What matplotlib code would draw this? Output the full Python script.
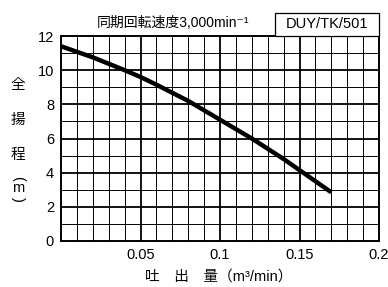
import matplotlib

matplotlib.use("Agg")
import matplotlib.pyplot as plt
from matplotlib.patches import Rectangle
import numpy as np

plt.rcParams["font.family"] = ["Liberation Sans", "Noto Sans CJK JP", "DejaVu Sans"]

# performance curve
flow = [0.0, 0.02, 0.04, 0.05, 0.06, 0.08, 0.10, 0.12, 0.14, 0.15, 0.16, 0.17]
head = [11.4, 10.75, 10.0, 9.6, 9.15, 8.2, 7.1, 6.0, 4.8, 4.15, 3.5, 2.85]

x_ticks = [0.05, 0.1, 0.15, 0.2]
x_tick_labels = ["0.05", "0.1", "0.15", "0.2"]
y_ticks = [0, 2, 4, 6, 8, 10, 12]

title = "同期回転速度3,000min⁻¹"
model = "DUY/TK/501"
x_label = "吐　出　量（m³/min）"
y_chars = ["全", "揚", "程"]

W, H = 388, 287
fig = plt.figure(figsize=(W / 100, H / 100), dpi=100)
ax = fig.add_axes([61 / W, 1 - 241 / H, 318 / W, 205 / H])

ax.set_xlim(0, 0.2)
ax.set_ylim(0, 12)

for xv in np.arange(0.01, 0.2, 0.01):
    major = abs(round(xv / 0.05) * 0.05 - xv) < 1e-9
    ax.axvline(xv, color="black", lw=1.3 if major else 0.7, zorder=1)
for yv in range(1, 12):
    ax.axhline(yv, color="black", lw=1.3 if yv % 2 == 0 else 0.7, zorder=1)

ax.plot(flow, head, color="black", lw=3.2, solid_capstyle="butt", zorder=3)

for sp in ax.spines.values():
    sp.set_linewidth(1.4)

ax.set_xticks(x_ticks)
ax.set_xticklabels(x_tick_labels)
ax.set_yticks(y_ticks)
ax.tick_params(length=0, labelsize=10.5, pad=5)

fig.text(173 / W, 1 - 23 / H, title, ha="center", va="center", fontsize=10)

# model label box sitting on top of the axes
fig.patches.append(Rectangle((275 / W, 1 - 36 / H), 104 / W, 23 / H, transform=fig.transFigure,
                             fc="white", ec="black", lw=0.9))
fig.text(327 / W, 1 - 24.5 / H, model, ha="center", va="center", fontsize=10.5)

fig.text(219 / W, 1 - 277 / H, x_label, ha="center", va="center", fontsize=10.5)

for ch, yp in zip(y_chars, [85, 120, 155]):
    fig.text(18 / W, 1 - yp / H, ch, ha="center", va="center", fontsize=10.5)
fig.text(18 / W, 1 - 178 / H, "(", ha="center", va="center", fontsize=10.5, rotation=270)
fig.text(18 / W, 1 - 188 / H, "m", ha="center", va="center", fontsize=10.5)
fig.text(18 / W, 1 - 199 / H, ")", ha="center", va="center", fontsize=10.5, rotation=270)

fig.savefig("out.png", dpi=100)
